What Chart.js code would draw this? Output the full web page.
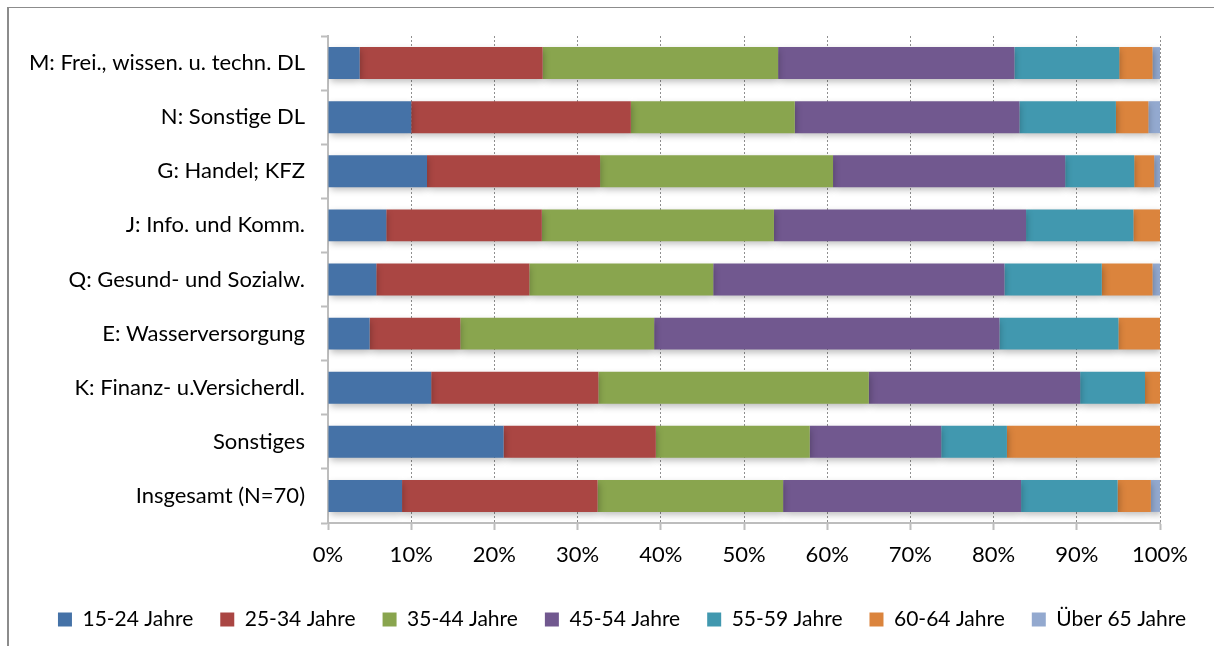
<!DOCTYPE html>
<html>
<head>
<meta charset="utf-8">
<script src="https://cdn.jsdelivr.net/npm/chart.js@4"></script>
<style>
    html, body { margin: 0; padding: 0; background: #fff; }
    #wrap { position: relative; width: 1214px; height: 646px; }
    #frame { position: absolute; left: 7px; top: 7px; right: 0; bottom: 0; border-left: 2px solid #8c8c8c; border-top: 1px solid #8c8c8c; pointer-events: none; }
</style>
</head>
<body>
<div id="wrap">
    <canvas id="barChart" width="1214" height="646"></canvas>
    <div id="frame"></div>
</div>
<script>
// branches, top to bottom
const branches = [
    'M: Frei., wissen. u. techn. DL',
    'N: Sonstige DL',
    'G: Handel; KFZ',
    'J: Info. und Komm.',
    'Q: Gesund- und Sozialw.',
    'E: Wasserversorgung',
    'K: Finanz- u.Versicherdl.',
    'Sonstiges',
    'Insgesamt (N=70)'
]

const ageGroups = ['15-24 Jahre', '25-34 Jahre', '35-44 Jahre', '45-54 Jahre', '55-59 Jahre', '60-64 Jahre', 'Über 65 Jahre']

// share per age group in percent, one value per branch
const age15to24 = [3.8, 10.0, 11.9, 7.0, 5.8, 5.0, 12.4, 21.1, 8.9]
const age25to34 = [22.0, 26.4, 20.8, 18.7, 18.4, 10.9, 20.1, 18.3, 23.5]
const age35to44 = [28.3, 19.7, 28.0, 27.9, 22.1, 23.3, 32.5, 18.5, 22.3]
const age45to54 = [28.4, 27.0, 27.9, 30.3, 35.0, 41.5, 25.4, 15.8, 28.6]
const age55to59 = [12.6, 11.6, 8.3, 12.9, 11.7, 14.3, 7.8, 7.9, 11.6]
const age60to64 = [4.0, 3.9, 2.4, 3.2, 6.1, 5.0, 1.8, 18.4, 4.0]
const age65plus = [0.9, 1.4, 0.7, 0, 0.9, 0, 0, 0, 1.1]

const xTicks = [0, 10, 20, 30, 40, 50, 60, 70, 80, 90, 100]

const colors = ['#4572A7', '#AA4643', '#89A54E', '#71588F', '#4198AF', '#DB843D', '#93A9CF']

// soft drop shadow under the bars, like the office chart
const barShadow = {
    id: 'barShadow',
    beforeDatasetsDraw(chart) {
        let ctx = chart.ctx
        ctx.save()
        ctx.shadowColor = 'rgba(0, 0, 0, 0.28)'
        ctx.shadowBlur = 7
        ctx.shadowOffsetX = 1
        ctx.shadowOffsetY = 3
    },
    afterDatasetsDraw(chart) {
        chart.ctx.restore()
    }
}

document.addEventListener("DOMContentLoaded", function() {
    Chart.defaults.font.family = 'Lato'
    Chart.defaults.color = '#000'

    let series = [age15to24, age25to34, age35to44, age45to54, age55to59, age60to64, age65plus]

    let barData = {
        labels: branches,
        datasets: series.map((values, i) => ({
            label: ageGroups[i],
            data: values,
            backgroundColor: colors[i],
            borderWidth: 0,
            barPercentage: 0.59,
            categoryPercentage: 1
        }))
    }

    let barOptions = {
        indexAxis: 'y',
        responsive: false,
        animation: false,
        layout: {
            padding: { top: 36, right: 0, bottom: 6, left: 30 }
        },
        scales: {
            x: {
                stacked: true,
                min: 0,
                max: 100,
                afterBuildTicks: scale => { scale.ticks = xTicks.map(v => ({ value: v })) },
                afterFit: scale => { scale.height = 59 },
                ticks: {
                    callback: value => value + '%',
                    font: { size: 22 },
                    padding: 12,
                    maxRotation: 0
                },
                grid: {
                    color: '#8f8f8f',
                    tickColor: '#bdbdbd',
                    tickLength: 7,
                    tickWidth: 2
                },
                border: {
                    color: '#bdbdbd',
                    width: 2,
                    dash: [2, 2]
                }
            },
            y: {
                stacked: true,
                afterFit: scale => { scale.width = 298 },
                ticks: {
                    font: { size: 22 },
                    padding: 16
                },
                grid: {
                    drawOnChartArea: false,
                    tickColor: '#bdbdbd',
                    tickLength: 7,
                    tickWidth: 2
                },
                border: {
                    color: '#bdbdbd',
                    width: 2
                }
            },
            // empty right axis, only keeps room right of the plot
            spacer: {
                type: 'category',
                position: 'right',
                afterFit: scale => { scale.width = 54 },
                ticks: { display: false },
                grid: { display: false },
                border: { display: false }
            }
        },
        plugins: {
            legend: {
                position: 'bottom',
                labels: {
                    font: { size: 21 },
                    boxWidth: 14,
                    boxHeight: 14,
                    padding: 27
                }
            },
            tooltip: { enabled: false }
        }
    }

    let barChart = new Chart(document.getElementById('barChart'), {
        type: 'bar',
        data: barData,
        options: barOptions,
        plugins: [barShadow]
    })
})
</script>
</body>
</html>
